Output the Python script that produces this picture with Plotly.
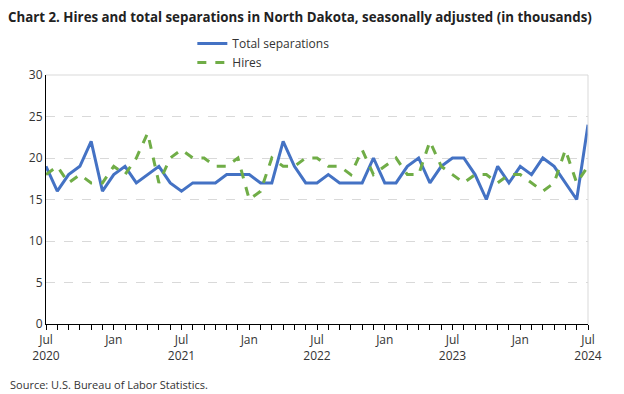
import plotly.graph_objects as go

months = ["Jul", "Aug", "Sep", "Oct", "Nov", "Dec", "Jan", "Feb", "Mar", "Apr", "May", "Jun"]
start_year = 2020
n_points = 49

separations = [19, 16, 18, 19, 22, 16, 18, 19, 17, 18, 19, 17,
               16, 17, 17, 17, 18, 18, 18, 17, 17, 22, 19, 17,
               17, 18, 17, 17, 17, 20, 17, 17, 19, 20, 17, 19,
               20, 20, 18, 15, 19, 17, 19, 18, 20, 19, 17, 15,
               24]
hires = [18, 19, 17, 18, 17, 17, 19, 18, 20, 23, 17, 20,
         21, 20, 20, 19, 19, 20, 15, 16, 20, 19, 19, 20,
         20, 19, 19, 18, 21, 18, 19, 20, 18, 18, 22, 19,
         18, 17, 18, 18, 17, 18, 18, 17, 16, 17, 21, 17,
         19]

x = list(range(n_points))
ticktext = []
for i in x:
    m = months[i % 12]
    yr = start_year + (i + 6) // 12
    if i % 12 == 0:
        ticktext.append(f"{m}<br>{yr}")
    elif i % 6 == 0:
        ticktext.append(m)
    else:
        ticktext.append("")

fig = go.Figure()
fig.add_trace(go.Scatter(x=x, y=separations, mode="lines", name="Total separations",
                         line=dict(color="#4472C4", width=3)))
fig.add_trace(go.Scatter(x=x, y=hires, mode="lines", name="Hires",
                         line=dict(color="#70AD47", width=3, dash="dash")))

fig.update_layout(
    width=616, height=386,
    margin=dict(l=38, r=36, t=67, b=70, autoexpand=False),
    paper_bgcolor="white", plot_bgcolor="white",
    font=dict(family="Open Sans, Liberation Sans, sans-serif", size=12, color="#333333"),
    title=dict(text="<b>Chart 2. Hires and total separations in North Dakota, seasonally adjusted (in thousands)</b>",
               x=0.0, xanchor="left", y=0.976, yanchor="middle",
               font=dict(size=13.3, color="#222222")),
    legend=dict(orientation="v", x=0.27, xanchor="left", y=1.185, yanchor="top",
                font=dict(size=12, color="#333333"), bgcolor="rgba(0,0,0,0)",
                tracegroupgap=0),
    showlegend=True,
)

fig.update_xaxes(range=[0, 48], tickmode="array", tickvals=x, ticktext=ticktext,
                 ticks="outside", ticklen=5, tickcolor="black", tickwidth=1,
                 showline=True, linecolor="black", linewidth=1, mirror=False,
                 showgrid=False, zeroline=False, tickangle=0,
                 tickfont=dict(size=12, color="#333333"))
fig.update_yaxes(range=[0, 30], tickvals=[0, 5, 10, 15, 20, 25, 30],
                 showline=True, linecolor="black", linewidth=1,
                 showgrid=True, gridcolor="#D9D9D9", griddash="dash", gridwidth=1,
                 zeroline=False, ticks="", tickfont=dict(size=12, color="#333333"))

# plot area border (top and right)
fig.add_shape(type="line", xref="paper", yref="paper", x0=0, x1=1, y0=1, y1=1,
              line=dict(color="#D9D9D9", width=1))
fig.add_shape(type="line", xref="paper", yref="paper", x0=1, x1=1, y0=0, y1=1,
              line=dict(color="#D9D9D9", width=1))

fig.add_annotation(text="Source: U.S. Bureau of Labor Statistics.", xref="paper", yref="paper",
                   x=-0.0701, y=-0.241, xanchor="left", yanchor="middle", showarrow=False,
                   font=dict(size=11, color="#333333"))

fig.write_html("out.html")
